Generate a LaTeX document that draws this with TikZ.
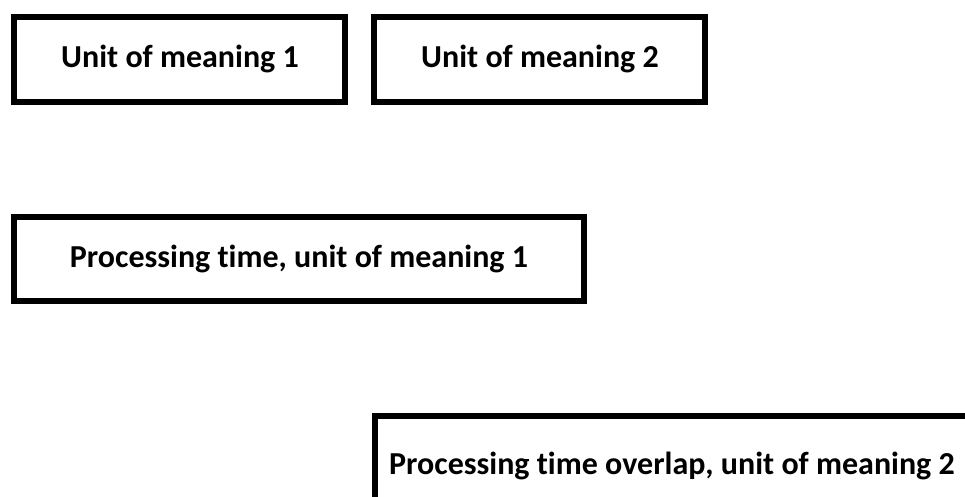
\documentclass[tikz,border=0pt]{standalone}
\usepackage{fontspec}
\setmainfont{Carlito}[Ligatures=NoCommon]
\begin{document}
\begin{tikzpicture}[x=1pt,y=-1pt,
  boxline/.style={draw=black,line width=6pt},
  lbl/.style={font=\bfseries\fontsize{32}{38}\selectfont,inner sep=0pt,anchor=center}]
\useasboundingbox (0,0) rectangle (965,496);
\clip (0,0) rectangle (965,496);
\draw[boxline] (14,17) rectangle (345,102);
\node[lbl] (u1) at (180,59) {Unit of meaning 1};
\draw[boxline] (374,17) rectangle (705,102);
\node[lbl] (u2) at (540,59) {Unit of meaning 2};
\draw[boxline] (14,217) rectangle (584,301);
\node[lbl] (p1) at (299,259) {Processing time, unit of meaning 1};
\draw[boxline] (375,416) rectangle (1000,540);
\node[lbl,anchor=west] (p2) at (389,466) {Processing time overlap, unit of meaning 2};
\end{tikzpicture}
\end{document}
